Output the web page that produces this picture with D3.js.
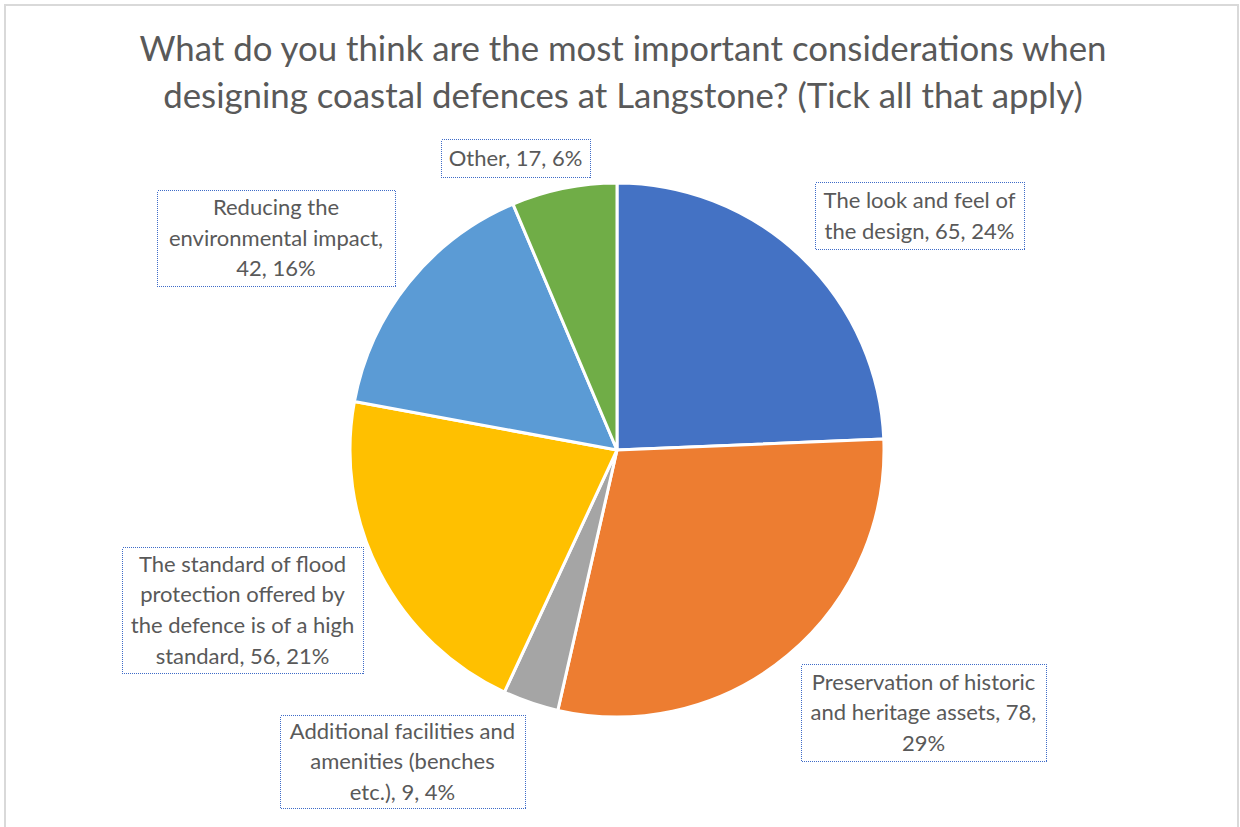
<!DOCTYPE html>
<html>
<head>
<meta charset="utf-8">
<script src="https://cdn.jsdelivr.net/npm/d3@7"></script>
<style>
  html, body { margin: 0; padding: 0; background: #fff; }
  svg { display: block; }
</style>
</head>
<body>
<svg id="chart" width="1240" height="827"></svg>
<script>
// Survey responses (tick all that apply)
const categories = [
  "The look and feel of the design",
  "Preservation of historic and heritage assets",
  "Additional facilities and amenities (benches etc.)",
  "The standard of flood protection offered by the defence is of a high standard",
  "Reducing the environmental impact",
  "Other"
];
const values = [65, 78, 9, 56, 42, 17];
const percentLabels = ["24%", "29%", "4%", "21%", "16%", "6%"];
const colors = ["#4472C4", "#ED7D31", "#A5A5A5", "#FFC000", "#5B9BD5", "#70AD47"];

// Wrapped lines of each data label
const labelLines = [
  ["The look and feel of", "the design, 65, 24%"],
  ["Preservation of historic", "and heritage assets, 78,", "29%"],
  ["Additional facilities and", "amenities (benches", "etc.), 9, 4%"],
  ["The standard of flood", "protection offered by", "the defence is of a high", "standard, 56, 21%"],
  ["Reducing the", "environmental impact,", "42, 16%"],
  ["Other, 17, 6%"]
];

// Label box placement [left, top, right, bottom]
const labelBoxes = [
  [815, 182, 1024, 249],
  [801, 664, 1046, 761],
  [280, 715, 525, 808],
  [122, 547, 363, 673],
  [157, 190, 395, 286],
  [441, 139, 590, 177]
];

const titleLines = [
  "What do you think are the most important considerations when",
  "designing coastal defences at Langstone? (Tick all that apply)"
];

const svg = d3.select("#chart");
const textColor = "#595959";
const font = "Lato, 'Open Sans', sans-serif";

// Chart area frame
svg.append("rect")
  .attr("x", 5).attr("y", 5)
  .attr("width", 1233).attr("height", 840)
  .attr("fill", "#fff")
  .attr("stroke", "#D9D9D9").attr("stroke-width", 2);

// Title
svg.append("g").selectAll("text")
  .data(titleLines)
  .join("text")
  .attr("x", 623)
  .attr("y", (d, i) => 61 + i * 47)
  .attr("text-anchor", "middle")
  .attr("font-family", font)
  .attr("font-size", 34.8)
  .attr("fill", textColor)
  .text(d => d);

// Pie
const cx = 617, cy = 450, radius = 267;
const pie = d3.pie().sort(null).value(d => d)(values);
const arc = d3.arc().innerRadius(0).outerRadius(radius);

svg.append("g")
  .attr("transform", `translate(${cx},${cy})`)
  .selectAll("path")
  .data(pie)
  .join("path")
  .attr("d", arc)
  .attr("fill", (d, i) => colors[i])
  .attr("stroke", "#fff")
  .attr("stroke-width", 3)
  .attr("stroke-linejoin", "round");

// Data labels with dotted frames
const lineGap = 30.7;
const labels = svg.append("g").selectAll("g")
  .data(labelLines)
  .join("g");

labels.append("rect")
  .attr("x", (d, i) => labelBoxes[i][0] + 0.5)
  .attr("y", (d, i) => labelBoxes[i][1] + 0.5)
  .attr("width", (d, i) => labelBoxes[i][2] - labelBoxes[i][0])
  .attr("height", (d, i) => labelBoxes[i][3] - labelBoxes[i][1])
  .attr("fill", "#fff")
  .attr("stroke", "#3F6CC8")
  .attr("stroke-width", 1)
  .attr("stroke-dasharray", "1,1")
  .attr("shape-rendering", "crispEdges");

labels.each(function(lines, i) {
  const b = labelBoxes[i];
  const mx = (b[0] + b[2]) / 2;
  const my = (b[1] + b[3]) / 2;
  const y0 = my - (lines.length - 1) * lineGap / 2;
  d3.select(this).selectAll("text")
    .data(lines)
    .join("text")
    .attr("x", mx)
    .attr("y", (d, j) => y0 + j * lineGap)
    .attr("dy", "0.35em")
    .attr("text-anchor", "middle")
    .attr("font-family", font)
    .attr("font-size", 22)
    .attr("fill", textColor)
    .text(d => d);
});
</script>
</body>
</html>
